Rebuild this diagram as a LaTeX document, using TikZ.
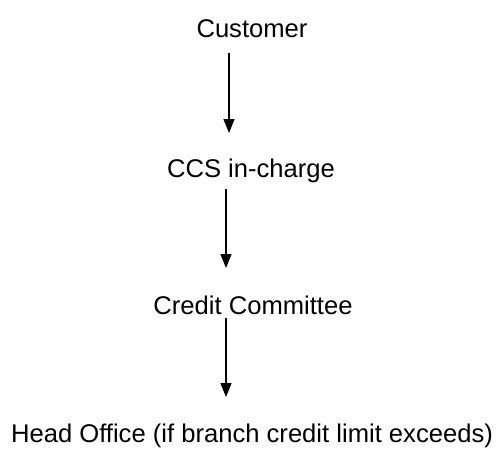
\documentclass[tikz,border=0pt]{standalone}
\usepackage{fontspec}
\setmainfont{Liberation Sans}
\usetikzlibrary{arrows.meta}
\begin{document}
\begin{tikzpicture}[x=1pt,y=1pt,
  lbl/.style={anchor=base,inner sep=0pt,font=\fontsize{25.6}{30}\selectfont},
  arr/.style={line width=1.3pt,-{Triangle[width=11pt,length=14pt]}}]
\useasboundingbox (0,0) rectangle (496,-458);
\node[lbl] (cust) at (252,-37) {Customer};
\node[lbl] (ccs) at (251,-177) {CCS in-charge};
\node[lbl] (cc) at (253,-314) {Credit Committee};
\node[lbl] (ho) at (252,-442) {Head Office (if branch credit limit exceeds)};
\coordinate (a1s) at (229,-53);
\coordinate (a1e) at (229,-133);
\coordinate (a2s) at (226,-189);
\coordinate (a2e) at (226,-268);
\coordinate (a3s) at (226,-318);
\coordinate (a3e) at (226,-397);
\draw[arr] (a1s) -- (a1e);
\draw[arr] (a2s) -- (a2e);
\draw[arr] (a3s) -- (a3e);
\end{tikzpicture}
\end{document}
